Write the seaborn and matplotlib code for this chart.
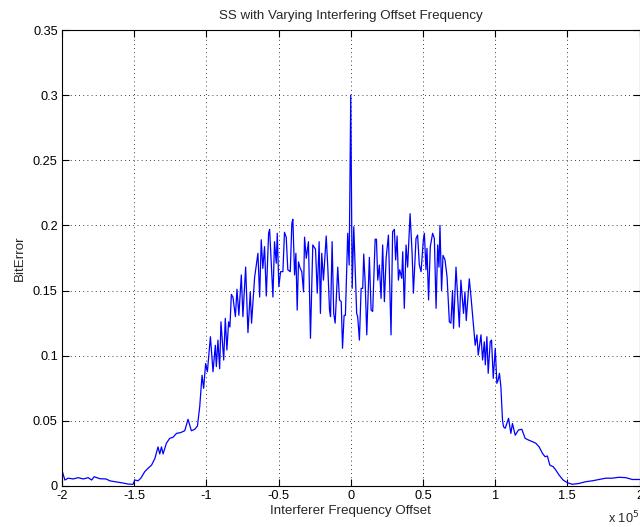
import matplotlib
matplotlib.use("Agg")
import matplotlib.pyplot as plt
import seaborn as sns
import numpy as np
import pandas as pd

# x offset in units of 1e5 Hz
offset_left = [-2.0, -1.980, -1.957, -1.923, -1.888, -1.853, -1.819, -1.795, -1.777, -1.738,
               -1.695, -1.669, -1.634, -1.588, -1.542, -1.508, -1.496, -1.473, -1.454, -1.427,
               -1.404, -1.380, -1.357, -1.335, -1.323, -1.311, -1.300, -1.277, -1.254, -1.231,
               -1.207, -1.178, -1.150, -1.127, -1.104, -1.081, -1.062]
error_left = [0.012, 0.0046, 0.006, 0.0054, 0.0064, 0.0054, 0.0064, 0.0046, 0.0071, 0.0056,
              0.0054, 0.004, 0.0033, 0.0025, 0.0015, 0.0013, 0.0046, 0.004, 0.006, 0.011,
              0.0136, 0.016, 0.021, 0.030, 0.0246, 0.030, 0.0246, 0.0328, 0.0366, 0.0374,
              0.0404, 0.041, 0.0424, 0.0512, 0.0424, 0.0435, 0.046]

offset_mid_left = [-1.046, -1.030, -1.019, -1.005, -0.993, -0.972, -0.954, -0.938, -0.931, -0.920,
                   -0.908, -0.899, -0.880, -0.869, -0.858, -0.846, -0.837, -0.827, -0.816, -0.799,
                   -0.788, -0.775, -0.758, -0.747, -0.728, -0.712, -0.696, -0.687, -0.666, -0.643,
                   -0.631, -0.620, -0.609, -0.597, -0.585, -0.569, -0.562, -0.539, -0.528, -0.516,
                   -0.509, -0.498, -0.486, -0.470, -0.459, -0.447, -0.436, -0.419, -0.408, -0.401,
                   -0.389, -0.380, -0.371, -0.362, -0.350, -0.339, -0.327, -0.320, -0.308, -0.293,
                   -0.279, -0.263, -0.244, -0.232, -0.219, -0.210, -0.201, -0.189, -0.170, -0.159,
                   -0.147, -0.140, -0.129, -0.118, -0.108, -0.090, -0.078, -0.066, -0.057, -0.046,
                   -0.037, -0.021, -0.011]
error_mid_left = [0.061, 0.085, 0.075, 0.094, 0.0877, 0.1146, 0.0877, 0.108, 0.0916, 0.112,
                  0.090, 0.126, 0.0967, 0.1287, 0.1044, 0.126, 0.122, 0.147, 0.145, 0.130,
                  0.151, 0.131, 0.162, 0.130, 0.168, 0.1177, 0.149, 0.125, 0.160, 0.1786,
                  0.145, 0.189, 0.167, 0.1837, 0.1458, 0.194, 0.197, 0.145, 0.1875, 0.171,
                  0.194, 0.153, 0.1645, 0.1645, 0.1947, 0.191, 0.166, 0.1645, 0.2016, 0.2047,
                  0.162, 0.1786, 0.135, 0.172, 0.167, 0.1645, 0.149, 0.191, 0.1748, 0.1875,
                  0.1134, 0.185, 0.1817, 0.148, 0.1875, 0.1325, 0.1786, 0.158, 0.1919, 0.168,
                  0.135, 0.130, 0.1875, 0.1325, 0.125, 0.168, 0.1428, 0.1415, 0.1057, 0.131,
                  0.131, 0.194, 0.1696]

offset_mid_right = [0.0, 0.010, 0.021, 0.030, 0.041, 0.048, 0.060, 0.072, 0.083, 0.090,
                    0.100, 0.111, 0.129, 0.141, 0.152, 0.169, 0.178, 0.187, 0.198, 0.210,
                    0.221, 0.233, 0.245, 0.261, 0.279, 0.290, 0.302, 0.311, 0.321, 0.330,
                    0.339, 0.353, 0.360, 0.371, 0.383, 0.394, 0.411, 0.425, 0.434, 0.452,
                    0.463, 0.475, 0.487, 0.503, 0.510, 0.521, 0.528, 0.539, 0.551, 0.567,
                    0.579, 0.591, 0.602, 0.611, 0.618, 0.629, 0.639, 0.653, 0.667, 0.683,
                    0.694, 0.705, 0.712, 0.729, 0.752, 0.763, 0.781, 0.791, 0.800, 0.821,
                    0.833, 0.849, 0.862, 0.874, 0.883, 0.902, 0.913, 0.925, 0.932, 0.943,
                    0.952, 0.966, 0.975, 0.987, 1.001, 1.012, 1.021, 1.030, 1.040]
error_mid_right = [0.300, 0.1517, 0.199, 0.168, 0.1325, 0.130, 0.112, 0.1517, 0.1517, 0.178,
                   0.1556, 0.116, 0.1755, 0.135, 0.134, 0.1894, 0.1894, 0.158, 0.1696, 0.144,
                   0.185, 0.1415, 0.1748, 0.1926, 0.116, 0.1952, 0.197, 0.1735, 0.1919, 0.158,
                   0.166, 0.1594, 0.1798, 0.1364, 0.185, 0.168, 0.209, 0.1786, 0.148, 0.190,
                   0.1926, 0.1696, 0.1645, 0.189, 0.194, 0.166, 0.1824, 0.1428, 0.1837, 0.194,
                   0.190, 0.1364, 0.185, 0.168, 0.200, 0.150, 0.177, 0.1735, 0.1606, 0.126,
                   0.125, 0.150, 0.121, 0.168, 0.122, 0.158, 0.1325, 0.149, 0.127, 0.159,
                   0.145, 0.125, 0.108, 0.116, 0.1005, 0.116, 0.0967, 0.1107, 0.093, 0.1146,
                   0.0865, 0.1107, 0.112, 0.0827, 0.1057, 0.0788, 0.0813, 0.0865, 0.076]

offset_right = [1.051, 1.058, 1.070, 1.093, 1.109, 1.120, 1.139, 1.162, 1.185, 1.208,
                1.231, 1.259, 1.282, 1.305, 1.328, 1.346, 1.362, 1.379, 1.402, 1.420,
                1.443, 1.471, 1.501, 1.535, 1.582, 1.628, 1.674, 1.720, 1.766, 1.812,
                1.858, 1.905, 1.950, 2.0]
error_right = [0.0507, 0.0455, 0.0443, 0.052, 0.0404, 0.048, 0.039, 0.043, 0.0435, 0.0366,
               0.0353, 0.034, 0.0328, 0.030, 0.025, 0.0225, 0.023, 0.016, 0.0148, 0.0123,
               0.0084, 0.0046, 0.0025, 0.0013, 0.002, 0.0033, 0.004, 0.005, 0.006, 0.006,
               0.0067, 0.0064, 0.005, 0.005]

x_ticks = [-2, -1.5, -1, -0.5, 0, 0.5, 1, 1.5, 2]
x_tick_labels = ["-2", "-1.5", "-1", "-0.5", "0", "0.5", "1", "1.5", "2"]
y_ticks = [0, 0.05, 0.1, 0.15, 0.2, 0.25, 0.3, 0.35]
y_tick_labels = ["0", "0.05", "0.1", "0.15", "0.2", "0.25", "0.3", "0.35"]

df = pd.DataFrame({
    "offset": offset_left + offset_mid_left + offset_mid_right + offset_right,
    "bit_error": error_left + error_mid_left + error_mid_right + error_right,
})

sns.set_style("white")
plt.rcParams["font.family"] = ["Liberation Sans", "DejaVu Sans"]

fig = plt.figure(figsize=(6.4, 5.27), dpi=100)
ax = fig.add_axes([62 / 640, 1 - 486 / 527, (639.5 - 62) / 640, 456 / 527])

sns.lineplot(data=df, x="offset", y="bit_error", ax=ax, color="#0000ff",
             linewidth=0.9, estimator=None, sort=False)

ax.set_xlim(-2, 2)
ax.set_ylim(0, 0.35)
ax.set_xticks(x_ticks)
ax.set_xticklabels(x_tick_labels, fontsize=9.2)
ax.set_yticks(y_ticks)
ax.set_yticklabels(y_tick_labels, fontsize=9.2)
ax.tick_params(direction="in", length=5, width=0.8, top=True, right=True,
               bottom=True, left=True, pad=3, colors="black")
ax.grid(True, linestyle=(0, (1, 4)), color="black", linewidth=0.6)
for s in ax.spines.values():
    s.set_visible(True)
    s.set_color("black")
    s.set_linewidth(0.8)

ax.set_xlabel("Interferer Frequency Offset", fontsize=9.6, labelpad=2)
ax.set_ylabel("BitError", fontsize=9.6, labelpad=5)
ax.set_title("SS with Varying Interfering Offset Frequency", fontsize=9.6, pad=8)
fig.text(608 / 640, 1 - 518 / 527, r"x 10$^{5}$", fontsize=9.2, va="center", ha="left")

fig.savefig("out.png", dpi=100)
